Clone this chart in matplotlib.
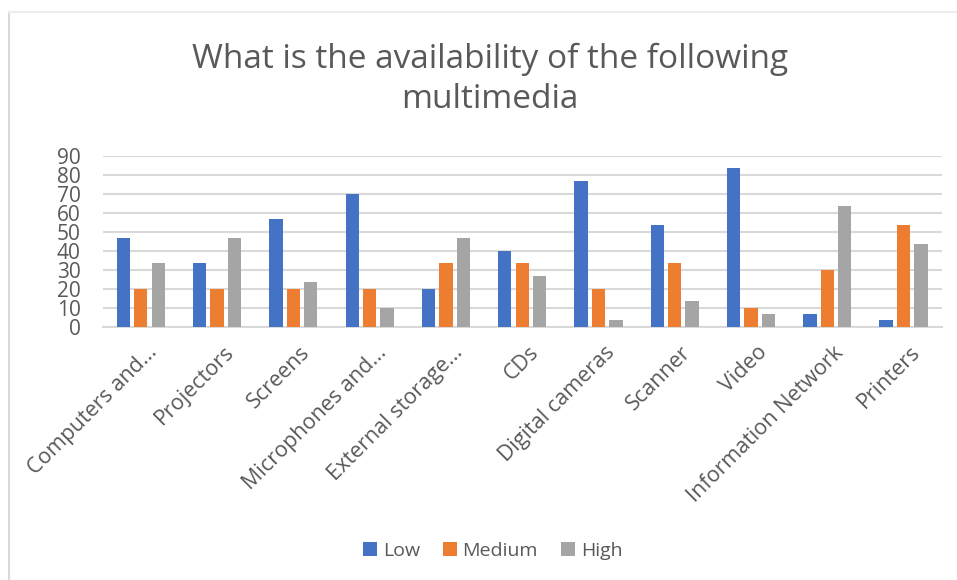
import numpy as np
import matplotlib.pyplot as plt
from matplotlib.lines import Line2D
from matplotlib.transforms import ScaledTranslation

# datos
categorias = ['Computers and...', 'Projectors', 'Screens', 'Microphones and...',
              'External storage...', 'CDs', 'Digital cameras', 'Scanner', 'Video',
              'Information Network', 'Printers']
bajo = [46.7, 33.3, 56.7, 70.0, 20.0, 40.0, 76.7, 53.3, 83.3, 6.7, 3.3]
medio = [20.0, 20.0, 20.0, 20.0, 33.3, 33.3, 20.0, 33.3, 10.0, 30.0, 53.3]
alto = [33.3, 46.7, 23.3, 10.0, 46.7, 26.7, 3.3, 13.3, 6.7, 63.3, 43.3]
series = ['Low', 'Medium', 'High']
ticks_y = [0, 10, 20, 30, 40, 50, 60, 70, 80, 90]

colores = ['#4472C4', '#ED7D31', '#A5A5A5']
gris_texto = '#595959'
plt.rcParams['font.family'] = ['Open Sans', 'DejaVu Sans']

fig = plt.figure(figsize=(9.57, 5.8), dpi=100)
ax = fig.add_axes([0.1073, 0.4366, 0.8767, 0.2950])

x = np.arange(len(categorias))
ancho = 0.175
paso = 0.228
for i, (vals, nombre) in enumerate(zip([bajo, medio, alto], series)):
    ax.bar(x + (i - 1) * paso, vals, width=ancho, color=colores[i], label=nombre, zorder=3)

ax.set_xlim(-0.5, len(categorias) - 0.5)
ax.set_ylim(0, 90)
ax.set_yticks(ticks_y)
ax.grid(axis='y', color='#D9D9D9', linewidth=1.5, zorder=0)
for lado in ['top', 'right', 'left']:
    ax.spines[lado].set_visible(False)
ax.spines['bottom'].set_color('#D9D9D9')
ax.spines['bottom'].set_linewidth(1.5)
ax.tick_params(axis='both', length=0, colors=gris_texto)
ax.tick_params(axis='y', pad=16, labelsize=15)
ax.set_xticks(x)
ax.set_xticklabels(categorias, rotation=45, ha='right', rotation_mode='anchor', fontsize=15.5)
ax.tick_params(axis='x', pad=11)
# mover un poco las etiquetas a la derecha, como en Excel
desplaza = ScaledTranslation(6 / 100, 0, fig.dpi_scale_trans)
for etiqueta in ax.get_xticklabels():
    etiqueta.set_transform(etiqueta.get_transform() + desplaza)

fig.suptitle('What is the availability of the following\nmultimedia', x=0.512, y=0.927,
             fontsize=24, color=gris_texto, linespacing=1.3)

ax.legend(loc='center', bbox_to_anchor=(0.465, -1.31), ncol=3, frameon=False,
          fontsize=14, labelcolor=gris_texto, handlelength=0.7, handleheight=0.7,
          handletextpad=0.3, columnspacing=1.2)

# borde del grafico
fig.add_artist(Line2D([9 / 957, 9 / 957], [0, 1 - 12 / 580], color='#D9D9D9', linewidth=1.5))
fig.add_artist(Line2D([9 / 957, 1], [1 - 12 / 580, 1 - 12 / 580], color='#EDEDED', linewidth=1.5))

fig.savefig('out.png', dpi=100)
plt.close()
